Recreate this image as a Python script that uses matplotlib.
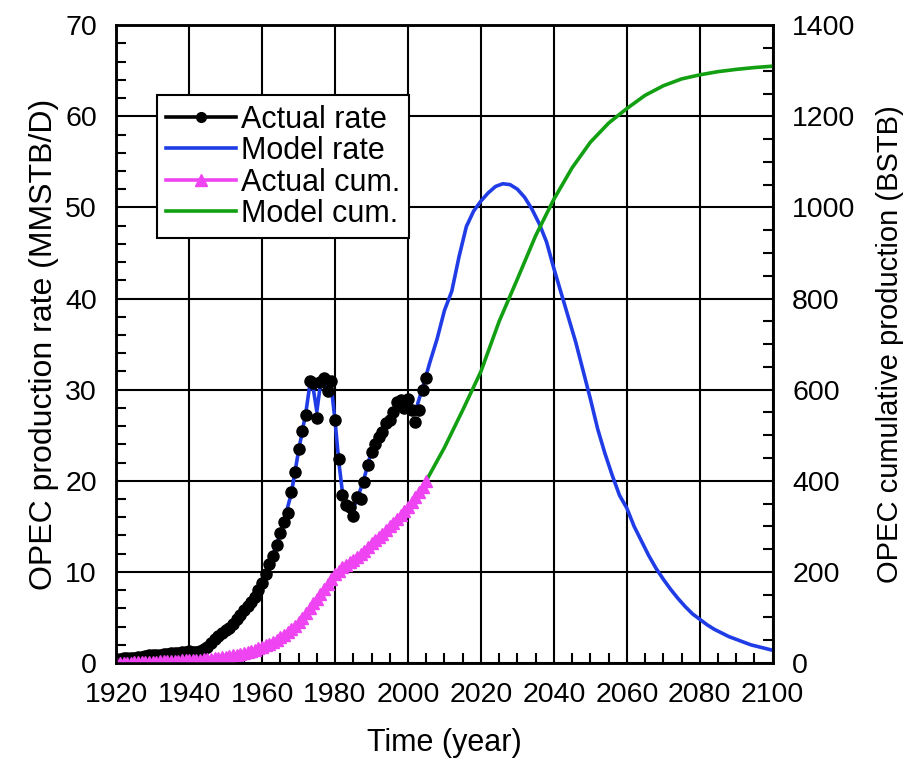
import numpy as np
import matplotlib.pyplot as plt
from matplotlib.ticker import MultipleLocator

plt.rcParams['font.family'] = ['Liberation Sans', 'DejaVu Sans']

# actual OPEC production rate, MMSTB/D (1920-2005)
actual_years = list(range(1920, 2006))
actual_rate = [0.4, 0.45, 0.5, 0.55, 0.6, 0.6, 0.65, 0.7, 0.8, 0.85,
               0.9, 0.9, 0.9, 0.95, 1.0, 1.05, 1.1, 1.15, 1.2, 1.25,
               1.3, 1.2, 1.2, 1.3, 1.5, 1.8, 2.2, 2.6, 3.0, 3.3,
               3.6, 3.9, 4.3, 4.8, 5.3, 5.8, 6.3, 6.7, 7.3, 8.0,
               8.8, 9.8, 10.9, 11.8, 13.0, 14.3, 15.5, 16.5, 18.8, 21.0,
               23.5, 25.5, 27.2, 30.9, 30.7, 26.9, 30.8, 31.3, 29.8, 30.9,
               26.7, 22.4, 18.4, 17.3, 17.1, 16.1, 18.2, 18.0, 19.9, 21.7,
               23.2, 24.0, 24.8, 25.4, 26.3, 26.7, 27.6, 28.7, 28.9, 28.0,
               29.0, 27.8, 26.5, 27.8, 30.0, 31.3]

# actual cumulative production, BSTB
actual_cum = [0.0, 0.3, 0.6, 0.9, 1.2, 1.5, 1.8, 2.1, 2.4, 2.7,
              3.0, 3.3, 3.6, 3.9, 4.2, 4.5, 4.9, 5.3, 5.7, 6.1,
              6.5, 6.9, 7.3, 7.7, 8.2, 8.8, 9.5, 10.4, 11.5, 12.7,
              14.0, 15.4, 17.0, 18.7, 20.6, 22.6, 24.8, 27.1, 29.6, 32.3,
              35.2, 38.7, 42.6, 46.9, 51.6, 56.7, 62.2, 68.2, 74.9, 82.2,
              90.2, 99.2, 109.0, 120.0, 131.0, 141.0, 152.0, 163.0, 174.0, 185.0,
              195.0, 203.0, 210.0, 216.0, 221.0, 226.0, 232.0, 239.0, 247.0, 255.0,
              263.0, 270.0, 277.0, 284.0, 292.0, 300.0, 308.0, 316.0, 325.0, 334.0,
              343.0, 354.0, 364.0, 375.0, 387.0, 400.0]

# model rate, MMSTB/D
model_years = [1920, 1925, 1930, 1935, 1940, 1943, 1945, 1948, 1950, 1952,
               1955, 1958, 1960, 1962, 1964, 1966, 1968, 1970, 1972, 1973,
               1974, 1975, 1976, 1977, 1978, 1979, 1980, 1981, 1982, 1983,
               1984, 1985, 1986, 1988, 1990, 1992, 1994, 1996, 1998, 2000,
               2002, 2004, 2006, 2008, 2010, 2012, 2014, 2016, 2018, 2020,
               2022, 2024, 2026, 2028, 2030, 2032, 2034, 2036, 2038, 2040,
               2042, 2044, 2046, 2048, 2050, 2052, 2054, 2056, 2058, 2060,
               2062, 2064, 2066, 2068, 2070, 2072, 2074, 2076, 2078, 2080,
               2082, 2084, 2086, 2088, 2090, 2092, 2094, 2096, 2098, 2100]
model_rate = [0.4, 0.6, 0.9, 1.05, 1.3, 1.3, 1.8, 3.0, 3.6, 4.3,
              5.8, 7.3, 8.8, 10.8, 13.0, 15.6, 18.6, 23.3, 27.5, 30.3,
              30.2, 27.6, 30.6, 31.0, 30.3, 30.2, 26.6, 22.2, 18.8, 17.4,
              16.9, 17.0, 17.9, 20.3, 23.3, 25.0, 26.1, 27.6, 28.5, 28.8,
              27.6, 30.2, 33.0, 35.6, 38.7, 40.8, 44.6, 47.9, 49.6, 50.7,
              51.6, 52.3, 52.6, 52.5, 52.0, 51.1, 49.8, 48.2, 46.2, 43.3,
              40.6, 37.9, 35.2, 32.1, 29.0, 25.7, 23.0, 20.6, 18.4, 17.0,
              15.0, 13.4, 11.8, 10.4, 9.2, 8.1, 7.1, 6.2, 5.4, 4.8,
              4.2, 3.7, 3.3, 2.9, 2.6, 2.3, 2.0, 1.8, 1.6, 1.4]

# model cumulative, BSTB
model_cum_years = [2005, 2010, 2015, 2020, 2025, 2030, 2035, 2040, 2045, 2050,
                   2055, 2060, 2065, 2070, 2075, 2080, 2085, 2090, 2095, 2100]
model_cum = [400, 473, 555, 640, 750, 843, 938, 1018, 1087, 1143,
             1185, 1217, 1246, 1267, 1282, 1291, 1298, 1303, 1307, 1310]

fig = plt.figure(figsize=(9.08, 7.63), dpi=100)
ax = fig.add_axes([0.128, 0.131, 0.723, 0.836])
ax2 = ax.twinx()

ax.plot(model_years, model_rate, color='#1f3ce6', lw=2.6, zorder=3)
ax.plot(actual_years, actual_rate, 'o', color='black', ms=8, zorder=4)
l1, = ax.plot([], [], '-o', color='black', lw=2.6, ms=7)
l2, = ax.plot([], [], '-', color='#1f3ce6', lw=2.6)

ax2.plot(model_cum_years, model_cum, color='#12a012', lw=2.6)
ax2.plot(actual_years, actual_cum, '^', color='#ee44f2', ms=9)
l3, = ax2.plot([], [], '-^', color='#ee44f2', lw=2.6, ms=9)
l4, = ax2.plot([], [], '-', color='#12a012', lw=2.6)

ax.set_xlim(1920, 2100)
ax.set_ylim(0, 70)
ax2.set_ylim(0, 1400)
ax.xaxis.set_major_locator(MultipleLocator(20))
ax.xaxis.set_minor_locator(MultipleLocator(5))
ax.yaxis.set_major_locator(MultipleLocator(10))
ax.yaxis.set_minor_locator(MultipleLocator(2))
ax2.yaxis.set_major_locator(MultipleLocator(200))
ax2.yaxis.set_minor_locator(MultipleLocator(50))
ax.grid(True, which='major', color='black', lw=1.5)
ax.set_axisbelow(True)

ax.tick_params(which='both', direction='in', labelsize=20.5, top=False, right=False)
ax.tick_params(which='major', length=0, pad=14)
ax.tick_params(which='minor', length=7, width=1.5)
ax2.tick_params(which='both', direction='in', labelsize=20.5)
ax2.tick_params(which='major', length=0, pad=14)
ax2.tick_params(which='minor', length=7, width=1.5)
for a in (ax, ax2):
    for s in a.spines.values():
        s.set_linewidth(1.8)

ax.set_xlabel('Time (year)', fontsize=22, labelpad=14)
ax.set_ylabel('OPEC production rate (MMSTB/D)', fontsize=23, labelpad=4)
ax2.set_ylabel('OPEC cumulative production (BSTB)', fontsize=21, labelpad=15)

leg = ax2.legend([l1, l2, l3, l4], ['Actual rate', 'Model rate', 'Actual cum.', 'Model cum.'],
                 loc='upper left', bbox_to_anchor=(0.062, 0.89), fontsize=22,
                 fancybox=False, framealpha=1, edgecolor='black',
                 handlelength=2.3, handletextpad=0.15, labelspacing=0.05,
                 borderpad=0.3, borderaxespad=0)
leg.get_frame().set_linewidth(1.5)

fig.savefig('out.png', dpi=100)
